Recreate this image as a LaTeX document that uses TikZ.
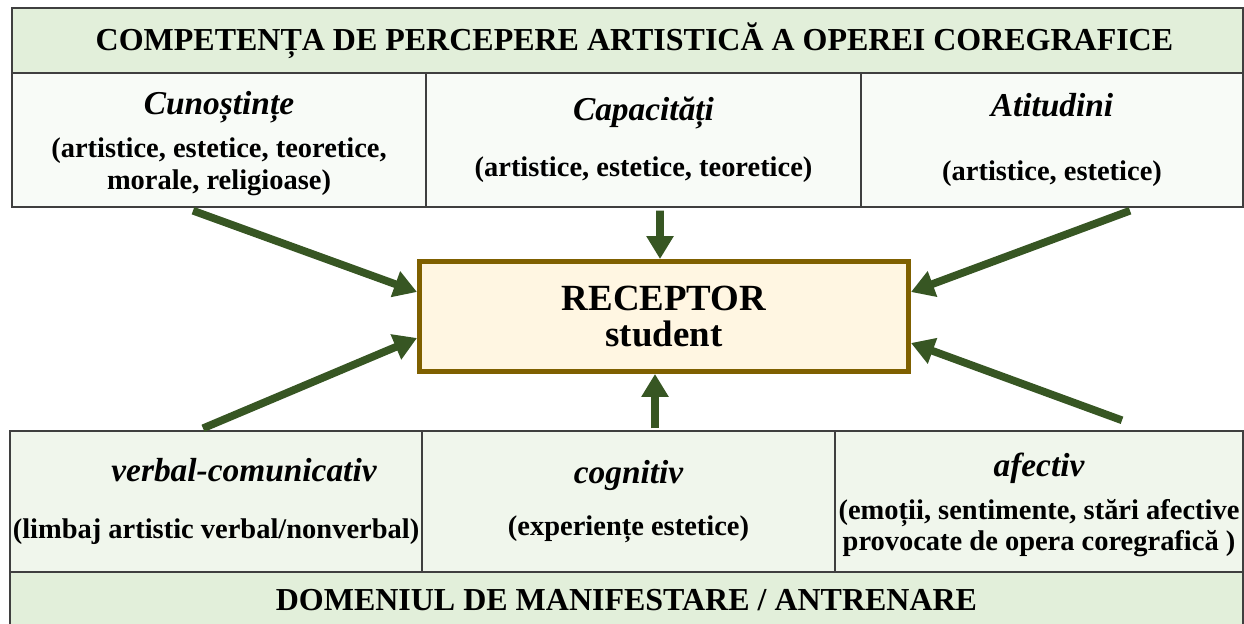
\documentclass[tikz,border=0pt]{standalone}
\usepackage{fontspec}
\setmainfont{Liberation Serif}
\usepackage{tikz}
\usetikzlibrary{arrows.meta}
\definecolor{headgreen}{HTML}{E2EFDA}
\definecolor{topfill}{HTML}{F8FBF7}
\definecolor{lowfill}{HTML}{F0F6EC}
\definecolor{boxline}{HTML}{3F3F3F}
\definecolor{arrowgreen}{HTML}{375623}
\definecolor{recline}{HTML}{7F6000}
\definecolor{recfill}{HTML}{FFF6E2}
\newcommand{\boxtitle}[1]{{\itshape\fontsize{19}{19}\selectfont #1}}

\begin{document}
\begin{tikzpicture}[
  box/.style={draw=boxline, line width=0.8pt, inner sep=0pt, align=center, font=\bfseries\fontsize{16.2}{18}\selectfont},
  headbox/.style={box, fill=headgreen, line width=1.1pt, font=\bfseries\fontsize{18.2}{21}\selectfont},
  topbox/.style={box, fill=topfill, minimum height=2.68cm},
  lowbox/.style={box, fill=lowfill, minimum height=2.82cm},
  flow/.style={draw=arrowgreen, line width=4.4pt, -{Triangle[length=0.46cm,width=0.52cm]}}
]
            \useasboundingbox (0,0) rectangle (24.88,12.46);
            \node[headbox, minimum width=24.62cm, minimum height=1.3cm] (head) at (12.55,11.65) {\hspace*{0.28cm}COMPETENȚA DE PERCEPERE ARTISTICĂ A OPEREI COREGRAFICE};
            \node[topbox, minimum width=8.28cm] (cun) at (4.38,9.66) {\rule{0pt}{17pt}\boxtitle{Cunoștințe}\\[7pt] (artistice, estetice, teoretice,\\ morale, religioase)};
            \node[topbox, minimum width=8.7cm] (cap) at (12.87,9.66) {\boxtitle{Capacități}\\[14pt] (artistice, estetice, teoretice)};
            \node[topbox, minimum width=7.64cm] (ati) at (21.04,9.66) {\boxtitle{Atitudini}\\[18pt] (artistice, estetice)};
            \node[box, draw=recline, fill=recfill, line width=2.8pt, minimum width=9.78cm, minimum height=2.2cm, font=\bfseries\fontsize{21}{21}\selectfont] (rec) at (13.28,6.13) {RECEPTOR\\ student};
            \node[lowbox, minimum width=8.24cm] (verb) at (4.32,2.43) {\hspace*{1.12cm}\boxtitle{verbal-comunicativ}\\[14pt] (limbaj artistic verbal/nonverbal)};
            \node[lowbox, minimum width=8.26cm] (cogn) at (12.57,2.43) {\boxtitle{cognitiv}\\[12pt] (experiențe estetice)};
            \node[lowbox, minimum width=8.16cm] (afec) at (20.78,2.43) {\rule{0pt}{17.5pt}\boxtitle{afectiv}\\[6pt] (emoții, sentimente, stări afective\\ provocate de opera coregrafică )};
            \node[headbox, minimum width=24.66cm, minimum height=1.12cm] (dom) at (12.53,0.46) {DOMENIUL DE MANIFESTARE / ANTRENARE};
            \draw[flow] ([xshift=-0.52cm,yshift=-0.06cm]cun.south) -- ([yshift=0.49cm]rec.west);
            \draw[flow] ([xshift=0.33cm,yshift=-0.06cm]cap.south) -- ([xshift=-0.08cm]rec.north);
            \draw[flow] ([xshift=1.56cm,yshift=-0.06cm]ati.south) -- ([yshift=0.49cm]rec.east);
            \draw[flow] ([xshift=-0.26cm,yshift=0.04cm]verb.north) -- ([yshift=-0.43cm]rec.west);
            \draw[flow] ([xshift=0.53cm,yshift=0.04cm]cogn.north) -- ([xshift=-0.18cm]rec.south);
            \draw[flow] ([xshift=1.66cm,yshift=0.2cm]afec.north) -- ([yshift=-0.53cm]rec.east);
        \end{tikzpicture}
\end{document}
